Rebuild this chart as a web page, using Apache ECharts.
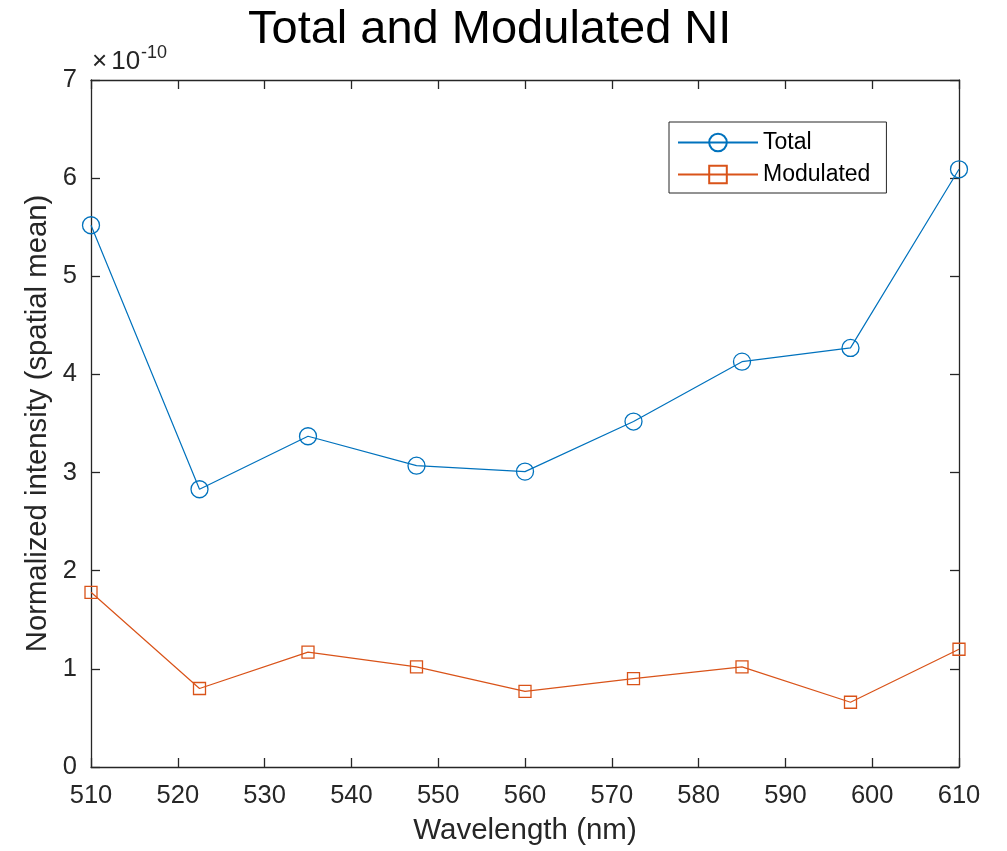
<!DOCTYPE html>
<html><head><meta charset="utf-8">
<script src="https://cdn.jsdelivr.net/npm/echarts@6/dist/echarts.min.js"></script>
<style>html,body{margin:0;padding:0;background:#fff}#c{width:1007px;height:851px}</style>
</head><body><div id="c"></div>
<script>
// Values in units of 1e-10
const wavelengths = [510, 522.5, 535, 547.5, 560, 572.5, 585, 597.5, 610];
const totalNI = [5.52, 2.83, 3.37, 3.07, 3.01, 3.52, 4.13, 4.27, 6.09];
const modulatedNI = [1.78, 0.80, 1.17, 1.02, 0.77, 0.90, 1.02, 0.66, 1.20];
const xTicks = [510, 520, 530, 540, 550, 560, 570, 580, 590, 600, 610];
const yTicks = [0, 1, 2, 3, 4, 5, 6, 7];

const FONT = 'Liberation Sans, Arial, Helvetica, sans-serif';
const chart = echarts.init(document.getElementById('c'), null, {renderer: 'canvas'});
const axisLine = {show: true, onZero: false, lineStyle: {color: '#262626', width: 1.3}};
const axisTick = {show: true, inside: true, length: 9, lineStyle: {color: '#262626', width: 1.3}};
const pair = a => a.map((v, i) => [wavelengths[i], v]);
chart.setOption({
  animation: false,
  backgroundColor: '#fff',
  title: {text: 'Total and Modulated NI', left: 243, top: 2,
    textStyle: {fontFamily: FONT, fontSize: 47, fontWeight: 'normal', color: '#000'}},
  grid: {left: 91, right: 48, top: 80, bottom: 84, containLabel: false, outerBoundsMode: 'none'},
  legend: {
    orient: 'vertical', left: 669, top: 122,
    backgroundColor: '#fff', borderColor: '#262626', borderWidth: 1, borderRadius: 0,
    padding: [9, 16, 7, 8], itemGap: 9, itemWidth: 80, itemHeight: 22,
    textStyle: {fontFamily: FONT, fontSize: 23, color: '#000'},
    data: ['Total', 'Modulated']
  },
  xAxis: [{
    type: 'value', min: 510, max: 610, interval: 10,
    axisLine, axisTick, splitLine: {show: false},
    axisLabel: {fontFamily: FONT, fontSize: 25.5, color: '#262626', margin: 16,
      formatter: v => xTicks.includes(v) ? String(v) : ''},
    name: 'Wavelength (nm)', nameLocation: 'middle', nameGap: 49,
    nameTextStyle: {fontFamily: FONT, fontSize: 29.5, color: '#262626'}
  }, {
    type: 'value', min: 510, max: 610, interval: 10, position: 'top',
    axisLine, axisTick, axisLabel: {show: false}, splitLine: {show: false}
  }],
  yAxis: [{
    type: 'value', min: 0, max: 7, interval: 1,
    axisLine, axisTick, splitLine: {show: false},
    axisLabel: {fontFamily: FONT, fontSize: 25.5, color: '#262626', margin: 14,
      formatter: v => yTicks.includes(v) ? String(v) : ''},
    name: 'Normalized intensity (spatial mean)', nameLocation: 'middle', nameGap: 37,
    nameTextStyle: {fontFamily: FONT, fontSize: 29.3, color: '#262626'}
  }, {
    type: 'value', min: 0, max: 7, interval: 1, position: 'right',
    axisLine, axisTick, axisLabel: {show: false}, splitLine: {show: false}
  }],
  graphic: [{
    type: 'text', left: 92, top: 44,
    style: {
      text: '{a|×}{b|10}{c|-10}',
      rich: {
        a: {fontFamily: FONT, fontSize: 26, fill: '#262626', padding: [8, 4, 0, 0]},
        b: {fontFamily: FONT, fontSize: 26, fill: '#262626', padding: [8, 1, 0, 0]},
        c: {fontFamily: FONT, fontSize: 18, fill: '#262626', padding: [0, 0, 10, 0]}
      }
    }
  }],
  series: [{
    name: 'Total', type: 'line', data: pair(totalNI),
    symbol: 'circle', symbolSize: 17, showAllSymbol: true,
    lineStyle: {color: '#0072BD', width: 1.2},
    itemStyle: {color: 'rgba(255,255,255,0)', borderColor: '#0072BD', borderWidth: 1.3}
  }, {
    name: 'Modulated', type: 'line', data: pair(modulatedNI),
    symbol: 'rect', symbolSize: 12, showAllSymbol: true,
    lineStyle: {color: '#D95319', width: 1.2},
    itemStyle: {color: 'rgba(255,255,255,0)', borderColor: '#D95319', borderWidth: 1.3}
  }]
});
</script></body></html>
